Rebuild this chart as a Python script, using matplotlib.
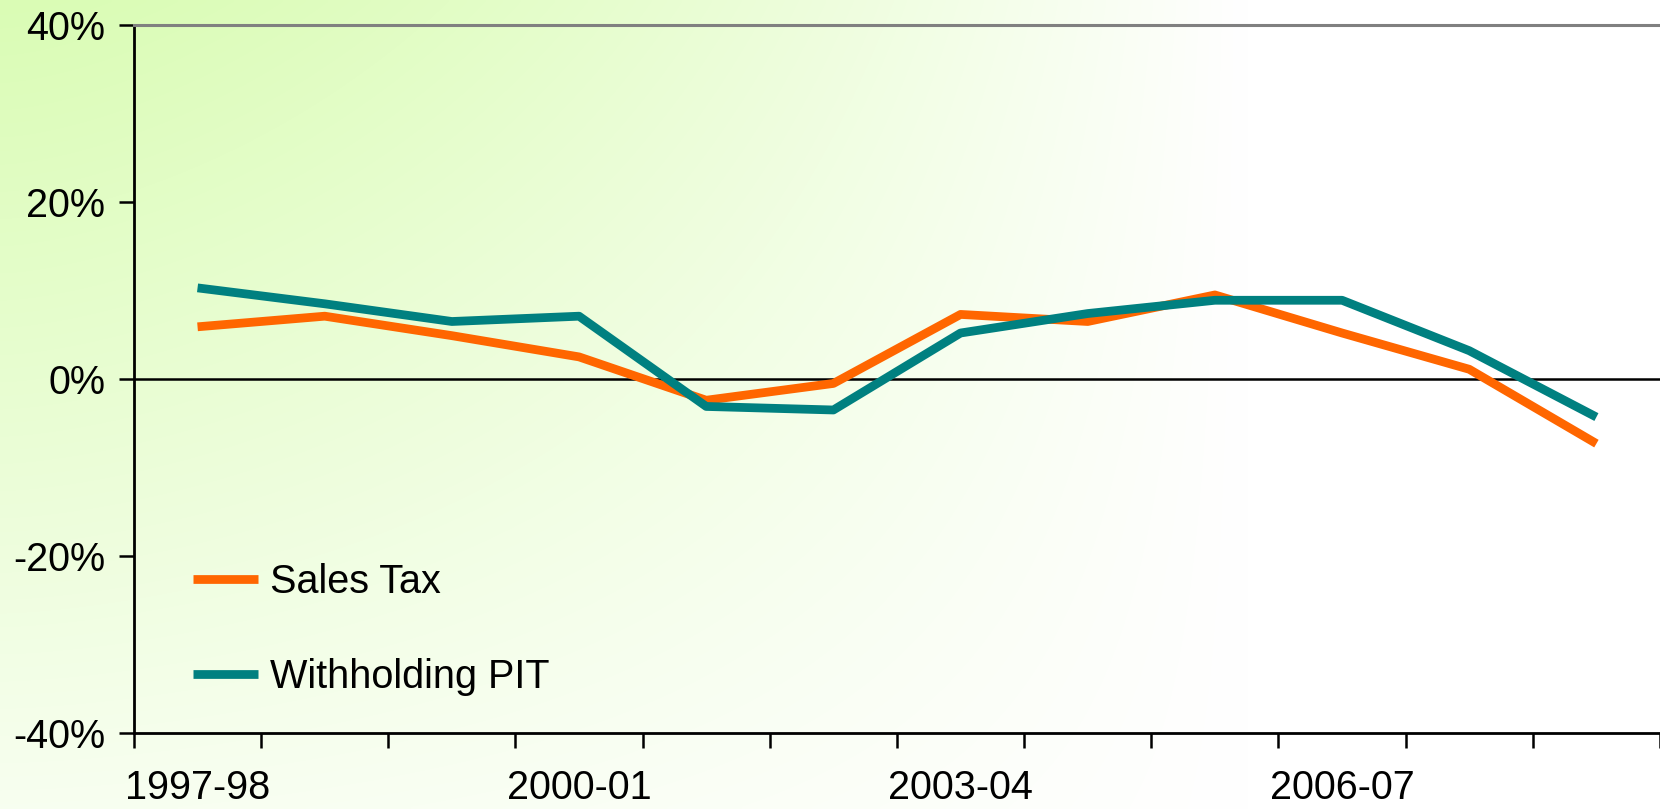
import numpy as np
import matplotlib
matplotlib.use('Agg')
import matplotlib.pyplot as plt
from matplotlib.ticker import FuncFormatter

plt.rcParams['font.family'] = ['Liberation Sans', 'DejaVu Sans']

# fiscal years and growth rates (%)
years = ['1997-98', '1998-99', '1999-00', '2000-01', '2001-02', '2002-03',
         '2003-04', '2004-05', '2005-06', '2006-07', '2007-08', '2008-09']
sales_tax = [5.9, 7.1, 4.9, 2.5, -2.4, -0.5, 7.3, 6.5, 9.5, 5.2, 1.1, -7.3]
withholding_pit = [10.3, 8.5, 6.5, 7.1, -3.1, -3.5, 5.2, 7.4, 8.9, 8.9, 3.2, -4.3]
y_ticks = [-40, -20, 0, 20, 40]

fig = plt.figure(figsize=(16.6, 8.09), dpi=100)

# gradient background, green at the top left fading to white
bg = fig.add_axes([0, 0, 1, 1], zorder=-10)
gx, gy = np.meshgrid(np.linspace(0, 1, 400), np.linspace(0, 1, 200))
t = np.clip(1 - (gx / 0.75) ** 1.5, 0, 1) * (1 - 0.8 * gy)
green = np.array([0.855, 0.99, 0.71])
img = 1 - t[..., None] * (1 - green)
bg.imshow(img, aspect='auto', extent=[0, 1, 1, 0], interpolation='bilinear')
bg.axis('off')

ax = fig.add_axes([0.0807, 0.094, 0.9193, 0.875])
ax.set_facecolor('none')
x = np.arange(len(years))
ax.plot(x, sales_tax, color='#FF6600', lw=6.3, solid_capstyle='butt', label='Sales Tax')
ax.plot(x, withholding_pit, color='#008080', lw=6.3, solid_capstyle='butt', label='Withholding PIT')
ax.axhline(0, color='black', lw=1.8, zorder=1)

ax.set_xlim(-0.5, 11.385)
ax.set_ylim(-40, 40)
ax.set_yticks(y_ticks)
ax.yaxis.set_major_formatter(FuncFormatter(lambda v, p: f'{v:.0f}%'))

ax.set_xticks(x[::3])
ax.set_xticklabels(years[::3])
ax.set_xticks(np.arange(len(years) + 1) - 0.5, minor=True)
ax.tick_params(axis='x', which='major', length=0, pad=26, labelsize=28.5)
ax.tick_params(axis='x', which='minor', length=10.5, width=1.8, direction='out')
ax.tick_params(axis='y', length=10.5, width=1.8, pad=10, labelsize=28.5)

for s in ['left', 'bottom']:
    ax.spines[s].set_linewidth(2)
    ax.spines[s].set_color('black')
ax.spines['top'].set_color('#808080')
ax.spines['top'].set_linewidth(2.2)
ax.spines['right'].set_visible(False)

ax.legend(loc='center left', bbox_to_anchor=(0.039, 0.146), frameon=False,
          fontsize=28.5, handlelength=1.64, handletextpad=0.3, labelspacing=1.45,
          borderpad=0, borderaxespad=0)

fig.savefig('out.png', dpi=100)
